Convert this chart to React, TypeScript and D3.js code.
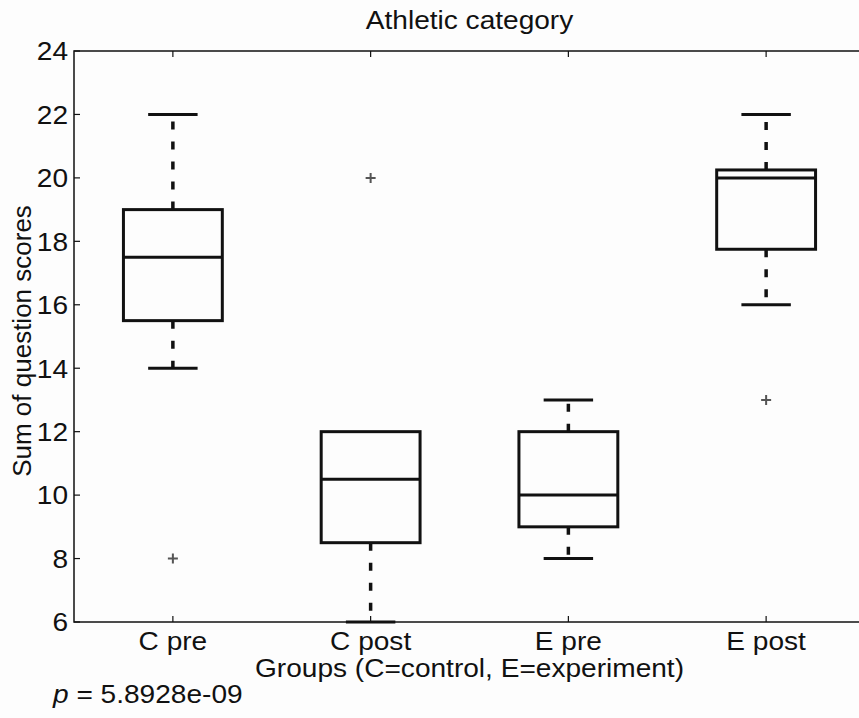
import React from 'react';
import * as d3 from 'd3';

const groups = ['C pre', 'C post', 'E pre', 'E post'];
const q1 = [15.5, 8.5, 9, 17.75];
const medians = [17.5, 10.5, 10, 20];
const q3 = [19, 12, 12, 20.25];
const whiskerLow = [14, 6, 8, 16];
const whiskerHigh = [22, 12, 13, 22];
const outliers = [[8], [20], [], [13]];
const yTicks = [6, 8, 10, 12, 14, 16, 18, 20, 22, 24];

const W = 859;
const H = 718;
const FONT = '"Liberation Sans", Arial, Helvetica, sans-serif';
const SX = 1.08; // the scan is a little wider than tall

// text drawn at (x, y) and stretched sideways like the scanned page
const T = ({ x, y, anchor = 'start', size = 26, dy, children }: any) => (
  <text
    transform={`translate(${x},${y}) scale(${SX},1)`}
    textAnchor={anchor}
    dy={dy}
    fontSize={size}
    fill="#111"
  >
    {children}
  </text>
);

const App = () => {
  // plot box runs past the right edge of the picture, like the scan
  const x = d3.scaleLinear().domain([0.5, 4.5]).range([74, 865]);
  const y = d3.scaleLinear().domain([6, 24]).range([622, 51]);

  const boxHalf = 0.25;
  const capHalf = 0.125;
  const [x0, x1] = x.range();
  const [yB, yT] = y.range();

  return (
    <svg
      width={W}
      height={H}
      style={{ position: 'absolute', left: 0, top: 0, background: '#fff' }}
      fontFamily={FONT}
    >
      <rect x={0} y={0} width={W} height={H} fill="#fdfdfd" />

      {/* axes frame */}
      <rect x={x0} y={yT} width={x1 - x0} height={yB - yT} fill="none" stroke="#111" strokeWidth={1.5} />

      {/* y ticks, left and right */}
      {yTicks.map((t) => (
        <g key={'y' + t}>
          <line x1={x0} x2={x0 + 6} y1={y(t)} y2={y(t)} stroke="#111" strokeWidth={1.2} />
          <line x1={x1} x2={x1 - 6} y1={y(t)} y2={y(t)} stroke="#111" strokeWidth={1.2} />
          <T x={x0 - 6} y={y(t)} dy="0.36em" anchor="end">
            {t}
          </T>
        </g>
      ))}

      {/* x ticks, bottom and top */}
      {groups.map((g, i) => (
        <g key={'x' + g}>
          <line x1={x(i + 1)} x2={x(i + 1)} y1={yB} y2={yB - 6} stroke="#111" strokeWidth={1.2} />
          <line x1={x(i + 1)} x2={x(i + 1)} y1={yT} y2={yT + 6} stroke="#111" strokeWidth={1.2} />
          <T x={x(i + 1)} y={650} anchor="middle">
            {g}
          </T>
        </g>
      ))}

      {/* boxes */}
      {groups.map((g, i) => {
        const c = x(i + 1);
        const bl = x(i + 1 - boxHalf);
        const br = x(i + 1 + boxHalf);
        const cl = x(i + 1 - capHalf);
        const cr = x(i + 1 + capHalf);
        return (
          <g key={'b' + g} stroke="#111" fill="none">
            {whiskerHigh[i] > q3[i] && (
              <>
                <line x1={c} x2={c} y1={y(q3[i])} y2={y(whiskerHigh[i])} strokeWidth={3.5} strokeDasharray="8 12" />
                <line x1={cl} x2={cr} y1={y(whiskerHigh[i])} y2={y(whiskerHigh[i])} strokeWidth={3} />
              </>
            )}
            {whiskerLow[i] < q1[i] && (
              <>
                <line x1={c} x2={c} y1={y(q1[i])} y2={y(whiskerLow[i])} strokeWidth={3.5} strokeDasharray="8 12" />
                <line x1={cl} x2={cr} y1={y(whiskerLow[i])} y2={y(whiskerLow[i])} strokeWidth={3} />
              </>
            )}
            <rect x={bl} y={y(q3[i])} width={br - bl} height={y(q1[i]) - y(q3[i])} strokeWidth={3} />
            <line x1={bl} x2={br} y1={y(medians[i])} y2={y(medians[i])} strokeWidth={3} />
            {outliers[i].map((o) => (
              <path
                key={'o' + o}
                d={`M${c - 5},${y(o)}H${c + 5}M${c},${y(o) - 5}V${y(o) + 5}`}
                stroke="#555"
                strokeWidth={2}
              />
            ))}
          </g>
        );
      })}

      {/* labels */}
      <T x={(x0 + x1) / 2} y={29} anchor="middle">
        Athletic category
      </T>
      <T x={(x0 + x1) / 2} y={677} anchor="middle">
        Groups (C=control, E=experiment)
      </T>
      <text
        transform={`translate(31, 341) rotate(-90)`}
        textAnchor="middle"
        fontSize={26}
        fill="#111"
      >
        Sum of question scores
      </text>
      <T x={53} y={703}>
        <tspan fontStyle="italic">p</tspan> = 5.8928e-09
      </T>
    </svg>
  );
};

export default App;
